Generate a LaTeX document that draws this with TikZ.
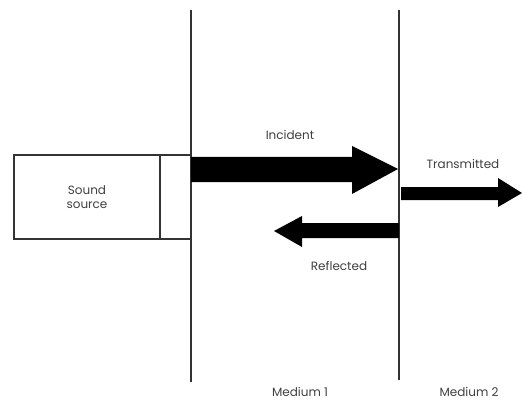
\documentclass[tikz,border=0pt]{standalone}
\usepackage{fontspec}
\setmainfont{Poppins}
\begin{document}
\begin{tikzpicture}[x=1pt,y=-1pt,
  wall/.style={line width=1.3pt,draw=black!80},
  boxline/.style={line width=1.1pt,draw=black!80},
  lbl/.style={font=\fontsize{12}{14.5}\selectfont,text=black!75,inner sep=0pt},
  fatarrow/.style={fill=black,draw=none}]
\useasboundingbox[fill=white] (0,0) rectangle (522,401);
% walls
\coordinate (w1t) at (191,10); \coordinate (w1b) at (191,382);
\coordinate (w2t) at (399,10); \coordinate (w2b) at (399,380);
\draw[wall] (w1t) -- (w1b);
\draw[wall] (w2t) -- (w2b);
% sound source box
\draw[boxline] (191,155) -- (14,155) -- (14,239) -- (191,239);
\draw[boxline] (160,155) -- (160,239);
\node[lbl,align=center] (src) at (87,197) {Sound\\source};
% incident arrow
\fill[fatarrow] (191,157) -- (352,157) -- (352,146) -- (398,169) -- (352,194) -- (352,182) -- (191,182) -- cycle;
\node[lbl] (inc) at (290,135) {Incident};
% reflected arrow
\fill[fatarrow] (399,223) -- (302,223) -- (302,216) -- (274,231) -- (302,247) -- (302,238) -- (399,238) -- cycle;
\node[lbl] (ref) at (339,266) {Reflected};
% transmitted arrow
\fill[fatarrow] (401,187) -- (498,187) -- (498,178) -- (522,193) -- (498,207) -- (498,200) -- (401,200) -- cycle;
\node[lbl] (tra) at (463,164) {Transmitted};
% media labels
\node[lbl] (m1) at (300,392) {Medium 1};
\node[lbl] (m2) at (469,392) {Medium 2};
\end{tikzpicture}
\end{document}
